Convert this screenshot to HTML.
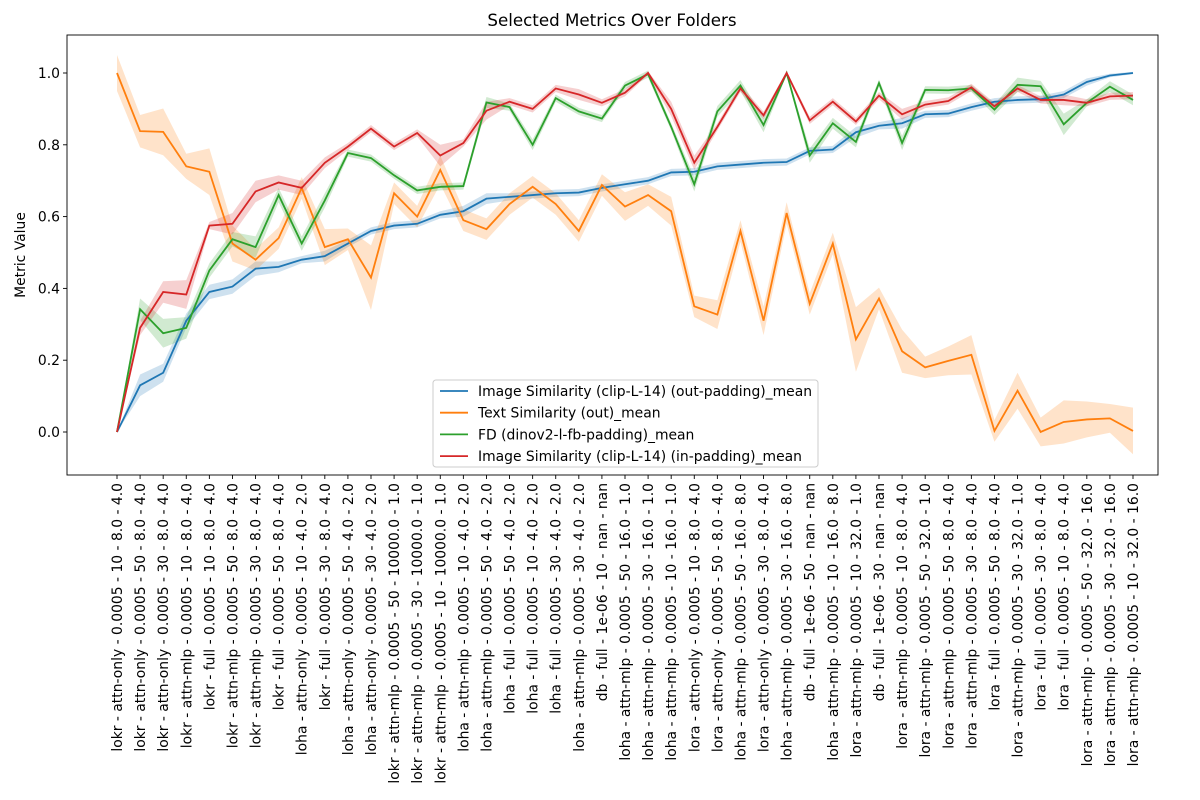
<!DOCTYPE html>
<html><head><meta charset="utf-8"><style>
html,body{margin:0;padding:0;background:#fff;}
svg{display:block;font-family:"DejaVu Sans","Liberation Sans",sans-serif;}
</style></head>
<body>
<svg id="chart" width="1200" height="800" xmlns="http://www.w3.org/2000/svg">
<rect width="1200" height="800" fill="#fff"/>
<text x="612" y="26" text-anchor="middle" font-size="16.7">Selected Metrics Over Folders</text>
<text transform="translate(25,255) rotate(-90)" text-anchor="middle" font-size="13.9">Metric Value</text>
<g id="bands"></g><g id="lines"></g><g id="axes"></g><g id="legend"></g>
</svg>
<script>
const categories = [
"lokr - attn-only - 0.0005 - 10 - 8.0 - 4.0","lokr - attn-only - 0.0005 - 50 - 8.0 - 4.0","lokr - attn-only - 0.0005 - 30 - 8.0 - 4.0","lokr - attn-mlp - 0.0005 - 10 - 8.0 - 4.0","lokr - full - 0.0005 - 10 - 8.0 - 4.0","lokr - attn-mlp - 0.0005 - 50 - 8.0 - 4.0","lokr - attn-mlp - 0.0005 - 30 - 8.0 - 4.0","lokr - full - 0.0005 - 50 - 8.0 - 4.0","loha - attn-only - 0.0005 - 10 - 4.0 - 2.0","lokr - full - 0.0005 - 30 - 8.0 - 4.0","loha - attn-only - 0.0005 - 50 - 4.0 - 2.0","loha - attn-only - 0.0005 - 30 - 4.0 - 2.0","lokr - attn-mlp - 0.0005 - 50 - 10000.0 - 1.0","lokr - attn-mlp - 0.0005 - 30 - 10000.0 - 1.0","lokr - attn-mlp - 0.0005 - 10 - 10000.0 - 1.0","loha - attn-mlp - 0.0005 - 10 - 4.0 - 2.0","loha - attn-mlp - 0.0005 - 50 - 4.0 - 2.0","loha - full - 0.0005 - 50 - 4.0 - 2.0","loha - full - 0.0005 - 10 - 4.0 - 2.0","loha - full - 0.0005 - 30 - 4.0 - 2.0","loha - attn-mlp - 0.0005 - 30 - 4.0 - 2.0","db - full - 1e-06 - 10 - nan - nan","loha - attn-mlp - 0.0005 - 50 - 16.0 - 1.0","loha - attn-mlp - 0.0005 - 30 - 16.0 - 1.0","loha - attn-mlp - 0.0005 - 10 - 16.0 - 1.0","lora - attn-only - 0.0005 - 10 - 8.0 - 4.0","lora - attn-only - 0.0005 - 50 - 8.0 - 4.0","loha - attn-mlp - 0.0005 - 50 - 16.0 - 8.0","lora - attn-only - 0.0005 - 30 - 8.0 - 4.0","loha - attn-mlp - 0.0005 - 30 - 16.0 - 8.0","db - full - 1e-06 - 50 - nan - nan","loha - attn-mlp - 0.0005 - 10 - 16.0 - 8.0","lora - attn-mlp - 0.0005 - 10 - 32.0 - 1.0","db - full - 1e-06 - 30 - nan - nan","lora - attn-mlp - 0.0005 - 10 - 8.0 - 4.0","lora - attn-mlp - 0.0005 - 50 - 32.0 - 1.0","lora - attn-mlp - 0.0005 - 50 - 8.0 - 4.0","lora - attn-mlp - 0.0005 - 30 - 8.0 - 4.0","lora - full - 0.0005 - 50 - 8.0 - 4.0","lora - attn-mlp - 0.0005 - 30 - 32.0 - 1.0","lora - full - 0.0005 - 30 - 8.0 - 4.0","lora - full - 0.0005 - 10 - 8.0 - 4.0","lora - attn-mlp - 0.0005 - 50 - 32.0 - 16.0","lora - attn-mlp - 0.0005 - 30 - 32.0 - 16.0","lora - attn-mlp - 0.0005 - 10 - 32.0 - 16.0"];
const imgOut = [0,0.13,0.165,0.31,0.39,0.405,0.455,0.46,0.48,0.49,0.525,0.56,0.575,0.58,0.605,0.615,0.65,0.655,0.66,0.665,0.667,0.68,0.69,0.70,0.723,0.725,0.74,0.745,0.75,0.752,0.783,0.787,0.835,0.853,0.86,0.885,0.887,0.905,0.92,0.925,0.927,0.94,0.975,0.993,1.0];
const imgOutErr = [0,0.03,0.025,0.02,0.02,0.02,0.02,0.015,0.01,0.015,0.01,0.01,0.01,0.01,0.01,0.015,0.015,0.01,0.01,0.01,0.01,0.01,0.01,0.01,0.01,0.01,0.01,0.01,0.01,0.01,0.01,0.01,0.015,0.01,0.015,0.01,0.01,0.01,0.01,0.01,0.01,0.01,0.01,0.005,0.003];
const textOut = [1.0,0.838,0.836,0.74,0.725,0.525,0.48,0.54,0.68,0.515,0.537,0.43,0.665,0.60,0.73,0.59,0.565,0.635,0.683,0.635,0.56,0.688,0.628,0.66,0.615,0.35,0.327,0.56,0.31,0.61,0.357,0.525,0.258,0.372,0.225,0.18,0.198,0.215,0.003,0.115,0.0,0.028,0.035,0.038,0.003];
const textOutErr = [0.05,0.045,0.065,0.035,0.065,0.05,0.03,0.03,0.03,0.05,0.03,0.09,0.03,0.03,0.04,0.03,0.03,0.03,0.03,0.03,0.03,0.03,0.04,0.03,0.04,0.03,0.04,0.03,0.04,0.03,0.03,0.03,0.09,0.03,0.06,0.03,0.04,0.055,0.03,0.05,0.04,0.06,0.05,0.04,0.065];
const fdVals = [0,0.342,0.275,0.29,0.45,0.537,0.515,0.66,0.525,0.645,0.777,0.763,0.715,0.673,0.683,0.685,0.918,0.905,0.80,0.93,0.893,0.873,0.965,0.997,0.85,0.69,0.893,0.965,0.855,1.0,0.77,0.86,0.808,0.972,0.805,0.953,0.952,0.957,0.898,0.967,0.963,0.857,0.917,0.962,0.925];
const fdErr = [0,0.03,0.04,0.03,0.02,0.02,0.03,0.02,0.02,0.02,0.01,0.01,0.01,0.01,0.01,0.01,0.015,0.01,0.015,0.01,0.01,0.01,0.01,0.01,0.01,0.02,0.015,0.015,0.02,0.005,0.02,0.015,0.015,0.01,0.02,0.01,0.01,0.01,0.015,0.02,0.015,0.03,0.01,0.015,0.015];
const imgIn = [0,0.29,0.39,0.383,0.575,0.58,0.67,0.695,0.68,0.75,0.795,0.845,0.795,0.833,0.77,0.805,0.895,0.92,0.9,0.957,0.94,0.917,0.945,1.0,0.9,0.75,0.85,0.957,0.882,1.0,0.868,0.92,0.865,0.937,0.885,0.912,0.922,0.96,0.907,0.957,0.925,0.925,0.917,0.935,0.937];
const imgInErr = [0,0.02,0.03,0.04,0.01,0.03,0.03,0.02,0.02,0.015,0.01,0.01,0.01,0.01,0.03,0.01,0.025,0.01,0.01,0.01,0.015,0.01,0.01,0.005,0.02,0.02,0.01,0.01,0.01,0.005,0.01,0.01,0.01,0.01,0.015,0.01,0.01,0.01,0.01,0.01,0.01,0.015,0.01,0.01,0.01];
const yTicks = [0.0,0.2,0.4,0.6,0.8,1.0];
const seriesNames = ["Image Similarity (clip-L-14) (out-padding)_mean","Text Similarity (out)_mean","FD (dinov2-l-fb-padding)_mean","Image Similarity (clip-L-14) (in-padding)_mean"];

const NS="http://www.w3.org/2000/svg";
const L=67,R=1158,T=35,B=475;
const x0=117,x1=1133;
function xs(i){return x0+(x1-x0)*i/(categories.length-1);}
function ys(v){return 432-(v)*359;}
function mk(tag,attrs,parent){const e=document.createElementNS(NS,tag);for(const k in attrs)e.setAttribute(k,attrs[k]);parent.appendChild(e);return e;}
const bands=document.getElementById('bands'),lines=document.getElementById('lines'),axes=document.getElementById('axes'),legend=document.getElementById('legend');
const series=[[imgOut,imgOutErr,'#1f77b4'],[textOut,textOutErr,'#ff7f0e'],[fdVals,fdErr,'#2ca02c'],[imgIn,imgInErr,'#d62728']];
const keys=['image-sim-out','text-sim-out','fd-dinov2','image-sim-in'];
series.forEach((s,k)=>{
  const [v,e,c]=s;
  let up=v.map((d,i)=>xs(i)+','+ys(d+e[i])).join(' ');
  let dn=v.map((d,i)=>xs(i)+','+ys(d-e[i])).reverse().join(' ');
  const p=mk('polygon',{points:up+' '+dn,fill:c,'fill-opacity':0.22,stroke:'none'},bands);
  
  
  const l=mk('polyline',{points:v.map((d,i)=>xs(i)+','+ys(d)).join(' '),fill:'none',stroke:c,'stroke-width':1.8},lines);
  
  
});
const frame=mk('rect',{x:L,y:T,width:R-L,height:B-T,fill:'none',stroke:'#000','stroke-width':0.9},axes);


yTicks.forEach(t=>{
  const y=ys(t);
  mk('line',{x1:L-4,x2:L,y1:y,y2:y,stroke:'#000','stroke-width':0.9},axes);
  const tx=mk('text',{x:L-7,y:y+5,'text-anchor':'end','font-size':13.9},axes);
  tx.textContent=t.toFixed(1);
  
  
});
categories.forEach((c,i)=>{
  const x=xs(i);
  mk('line',{x1:x,x2:x,y1:B,y2:B+4,stroke:'#000','stroke-width':0.9},axes);
  const tx=mk('text',{transform:`translate(${x+5},${B+8}) rotate(-90)`,'text-anchor':'end','font-size':13.9},axes);
  tx.textContent=c;
  
  
});
const lb=mk('rect',{x:433,y:380,width:385,height:87,rx:3,fill:'#fff','fill-opacity':0.8,stroke:'#ccc'},legend);


seriesNames.forEach((n,k)=>{
  const y=391+k*21.7;
  const g=mk('g',{},legend);
  
  
  mk('line',{x1:440,x2:468,y1:y,y2:y,stroke:series[k][2],'stroke-width':1.8},g);
  const t=mk('text',{x:478,y:y+5,'font-size':13.9},g);
  t.textContent=n;
});
</script>
</body></html>
